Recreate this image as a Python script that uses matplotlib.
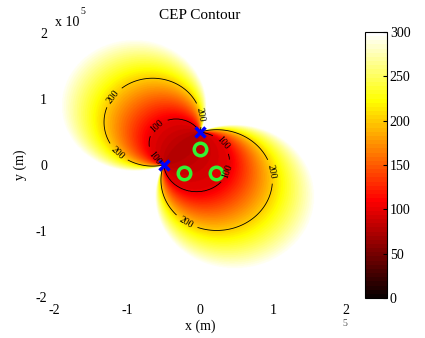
import numpy as np
import matplotlib
matplotlib.use("Agg")
import matplotlib.pyplot as plt

plt.rcParams['font.family'] = ['Liberation Serif', 'DejaVu Serif']

# reference points (blue x) and sensors (green o), metres
anchor_x = [0.0, -0.5e5]
anchor_y = [0.5e5, 0.0]
sensor_x = [0.0, -0.2165e5, 0.2165e5]
sensor_y = [0.25e5, -0.125e5, -0.125e5]

# CEP levels and how far each level reaches from the midpoint of the two
# blue points, measured along the bisector (read off the picture)
cep_levels = [100, 200, 300]
core_cep = 75
upper_lobe_reach = [0.48e5, 1.23e5, 1.95e5]
lower_lobe_reach = [0.74e5, 1.44e5, 2.15e5]

tick_vals = [-2e5, -1e5, 0, 1e5, 2e5]
tick_text = ['-2', '-1', '0', '1', '2']

# build the CEP surface: constant on circles through the two blue points
g = np.linspace(-2e5, 2e5, 501)
X, Y = np.meshgrid(g, g)
ax0, ay0 = anchor_x[0], anchor_y[0]
bx0, by0 = anchor_x[1], anchor_y[1]
pax, pay = ax0 - X, ay0 - Y
pbx, pby = bx0 - X, by0 - Y
phi = np.abs(np.arctan2(pax * pby - pay * pbx, pax * pbx + pay * pby))
half = np.hypot(ax0 - bx0, ay0 - by0) / 2
reach = half / np.tan(np.clip(phi, 1e-9, None) / 2)
side = (bx0 - ax0) * (Y - ay0) - (by0 - ay0) * (X - ax0)
cep = np.where(side < 0,
               np.interp(reach, [0] + upper_lobe_reach, [core_cep] + cep_levels),
               np.interp(reach, [0] + lower_lobe_reach, [core_cep] + cep_levels))

fig = plt.figure(figsize=(4.25, 3.38), dpi=100)
ax = fig.add_axes([54 / 425, 41 / 338, 292 / 425, 264 / 338])
im = ax.imshow(cep, extent=[-2e5, 2e5, -2e5, 2e5], origin='lower',
               cmap=plt.get_cmap('hot', 64), vmin=0, vmax=300,
               aspect='auto', interpolation='bilinear')
cs = ax.contour(X, Y, cep, levels=cep_levels[:2], colors='k', linewidths=0.6)
label_pos = [(-1.18e5, 0.12e5), (-1.13e5, 0.98e5), (-0.03e5, 0.75e5),
             (-0.54e5, 0.53e5), (-0.64e5, 0.1e5), (0.18e5, 0.2e5),
             (0.38e5, -0.1e5), (0.97e5, -0.1e5), (-0.23e5, -0.95e5)]
ax.clabel(cs, fmt='%d', fontsize=7, manual=label_pos)

ax.plot(anchor_x, anchor_y, 'x', color='blue', markersize=7, mew=2.5)
ax.plot(sensor_x, sensor_y, 'o', mfc='none', mec=(0.2, 0.95, 0.2),
        markersize=9, mew=2.5)

ax.set_xlim(-2e5, 2e5)
ax.set_ylim(-2e5, 2e5)
ax.set_xticks(tick_vals)
ax.set_xticklabels(tick_text)
ax.set_yticks(tick_vals)
ax.set_yticklabels(tick_text)
ax.tick_params(length=0, labelsize=10, pad=5)
for s in ax.spines.values():
    s.set_visible(False)
ax.set_title('CEP Contour', fontsize=11, pad=10)
ax.set_xlabel('x (m)', fontsize=10, labelpad=2)
ax.set_ylabel('y (m)', fontsize=10, labelpad=6)

fig.text(55 / 425, 1 - 26 / 338, 'x 10', fontsize=10)
fig.text(80 / 425, 1 - 14 / 338, '5', fontsize=7)
fig.text(342 / 425, 1 - 326 / 338, '5', fontsize=7, color='0.3')

cax = fig.add_axes([365 / 425, 40 / 338, 22 / 425, 266 / 338])
cb = fig.colorbar(im, cax=cax, ticks=[0, 50, 100, 150, 200, 250, 300])
cax.tick_params(direction='in', length=3, labelsize=10, pad=2)
cb.outline.set_linewidth(0.8)

fig.savefig('out.png', dpi=100)
